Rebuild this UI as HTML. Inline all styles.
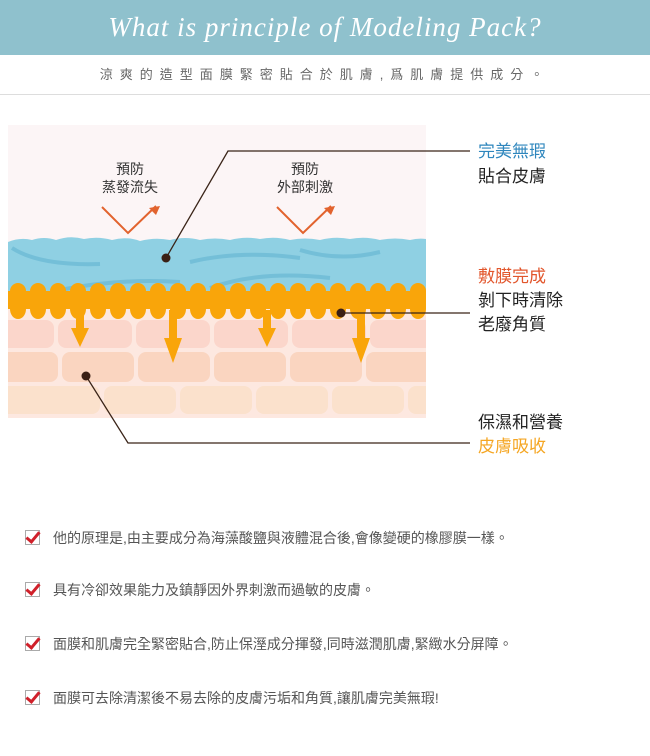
<!DOCTYPE html>
<html><head><meta charset="utf-8"><style>
body{margin:0;width:650px;height:756px;background:#fff;position:relative;overflow:hidden;font-family:"Liberation Sans","Noto Sans CJK TC",sans-serif}
.hdr{position:absolute;left:0;top:0;width:650px;height:55px;background:#8fc1cd;color:#fff;text-align:center;font:italic 27px/55px "Liberation Serif","DejaVu Serif",serif;letter-spacing:1px}
.sub{position:absolute;left:0;top:55px;width:650px;height:39px;border-bottom:1px solid #ddd;text-align:center;font-size:13px;line-height:40px;color:#666;letter-spacing:7px}
.lb{position:absolute;left:478px;font-size:17px;line-height:24px;color:#222}
.it{position:absolute;left:25px;font-size:14px;color:#555;line-height:20px}
.it span.cb{display:inline-block;width:13px;height:13px;border:1px solid #aaa;vertical-align:-2px;margin-right:13px;position:relative}
.it span.cb:after{content:"";position:absolute;left:3px;top:-2px;width:5px;height:11px;border:solid #d0202a;border-width:0 3px 3px 0;transform:rotate(40deg)}
</style></head><body>
<div class="hdr">What is principle of Modeling Pack?</div>
<div class="sub">涼爽的造型面膜緊密貼合於肌膚,爲肌膚提供成分。</div>
<svg style="position:absolute;left:0;top:0" width="650" height="470">
<defs>
<clipPath id="c"><rect x="8" y="125" width="418" height="300"/></clipPath>
<pattern id="op" x="8" y="278" width="20" height="44" patternUnits="userSpaceOnUse">
<circle cx="10" cy="13" r="8" fill="#f9a50a"/>
<rect x="0" y="13" width="20" height="18" fill="#f9a50a"/>
<ellipse cx="10" cy="31" rx="8" ry="10" fill="#f9a50a"/>
</pattern>
</defs>
<g clip-path="url(#c)">
<rect x="8" y="125" width="418" height="300" fill="#fcf5f6"/>
<rect x="8" y="300" width="418" height="125" fill="#fde8e0"/>
<g fill="#fbd6cb">
<rect x="-20" y="320" width="74" height="28" rx="8"/><rect x="58" y="320" width="74" height="28" rx="8"/><rect x="136" y="320" width="74" height="28" rx="8"/><rect x="214" y="320" width="74" height="28" rx="8"/><rect x="292" y="320" width="74" height="28" rx="8"/><rect x="370" y="320" width="74" height="28" rx="8"/>
</g>
<g fill="#fad5c0">
<rect x="-10" y="352" width="68" height="30" rx="8"/><rect x="62" y="352" width="72" height="30" rx="8"/><rect x="138" y="352" width="72" height="30" rx="8"/><rect x="214" y="352" width="72" height="30" rx="8"/><rect x="290" y="352" width="72" height="30" rx="8"/><rect x="366" y="352" width="72" height="30" rx="8"/>
</g>
<g fill="#fbe1cc">
<rect x="-20" y="386" width="74" height="28" rx="8"/><rect x="28" y="386" width="72" height="28" rx="8"/><rect x="104" y="386" width="72" height="28" rx="8"/><rect x="180" y="386" width="72" height="28" rx="8"/><rect x="256" y="386" width="72" height="28" rx="8"/><rect x="332" y="386" width="72" height="28" rx="8"/><rect x="408" y="386" width="72" height="28" rx="8"/>
</g>
<path d="M8 242 Q20 237 32 240 Q44 236 56 240 Q70 235 84 239 Q98 236 112 240 Q126 236 140 241 Q155 237 170 240 Q185 236 200 240 Q215 237 230 240 Q245 236 260 239 Q275 236 290 240 Q305 237 320 240 Q335 236 350 239 Q365 236 380 240 Q395 237 410 240 Q418 238 426 239 L426 300 L8 300Z" fill="#8fd0e3"/>
<path d="M12 248 Q40 266 100 264 M190 262 Q240 250 300 258 M210 288 Q260 270 330 278 M60 290 Q120 278 180 282 M300 250 Q340 262 380 252" stroke="#5fb0cf" stroke-width="4" fill="none" opacity=".55"/>
<rect x="8" y="278" width="418" height="44" fill="url(#op)"/>
<g fill="#f9a50a">
<rect x="76" y="310" width="8" height="20"/><path d="M71 328h18l-9 19z"/>
<rect x="169" y="310" width="8" height="30"/><path d="M164 338h18l-9 25z"/>
<rect x="263" y="310" width="8" height="20"/><path d="M258 328h18l-9 19z"/>
<rect x="357" y="310" width="8" height="30"/><path d="M352 338h18l-9 25z"/>
</g>
<rect x="8" y="418" width="418" height="7" fill="#fff"/>
</g>
<g stroke="#e2632e" stroke-width="2" fill="none">
<path d="M102 207 L128 233 L156 206"/><path d="M277 207 L303 233 L331 206"/>
</g>
<path d="M160 206 l-11 2 l7 7z M335 206 l-11 2 l7 7z" fill="#e2632e"/>
<g font-size="14" fill="#333" text-anchor="middle" font-family="Liberation Sans,Noto Sans CJK TC,sans-serif">
<text x="130" y="174">預防</text><text x="130" y="192">蒸發流失</text>
<text x="305" y="174">預防</text><text x="305" y="192">外部刺激</text>
</g>
<g stroke="#3a2418" stroke-width="1.3" fill="none">
<path d="M166 258 L228 151 L470 151"/><path d="M341 313 L470 313"/><path d="M86 376 L128 443 L470 443"/>
</g>
<g fill="#3a1f14"><circle cx="166" cy="258" r="4.5"/><circle cx="341" cy="313" r="4.5"/><circle cx="86" cy="376" r="4.5"/></g>
</svg>
<div class="lb" style="top:140px;color:#2e86bd">完美無瑕</div>
<div class="lb" style="top:165px">貼合皮膚</div>
<div class="lb" style="top:265px;color:#e2562c">敷膜完成</div>
<div class="lb" style="top:289px">剝下時清除</div>
<div class="lb" style="top:313px">老廢角質</div>
<div class="lb" style="top:411px">保濕和營養</div>
<div class="lb" style="top:435px;color:#f5a623">皮膚吸收</div>
<div class="it" style="top:528px"><span class="cb"></span>他的原理是,由主要成分為海藻酸鹽與液體混合後,會像變硬的橡膠膜一樣。</div>
<div class="it" style="top:580px"><span class="cb"></span>具有冷卻效果能力及鎮靜因外界刺激而過敏的皮膚。</div>
<div class="it" style="top:634px"><span class="cb"></span>面膜和肌膚完全緊密貼合,防止保溼成分揮發,同時滋潤肌膚,緊緻水分屏障。</div>
<div class="it" style="top:688px"><span class="cb"></span>面膜可去除清潔後不易去除的皮膚污垢和角質,讓肌膚完美無瑕!</div>
</body></html>
